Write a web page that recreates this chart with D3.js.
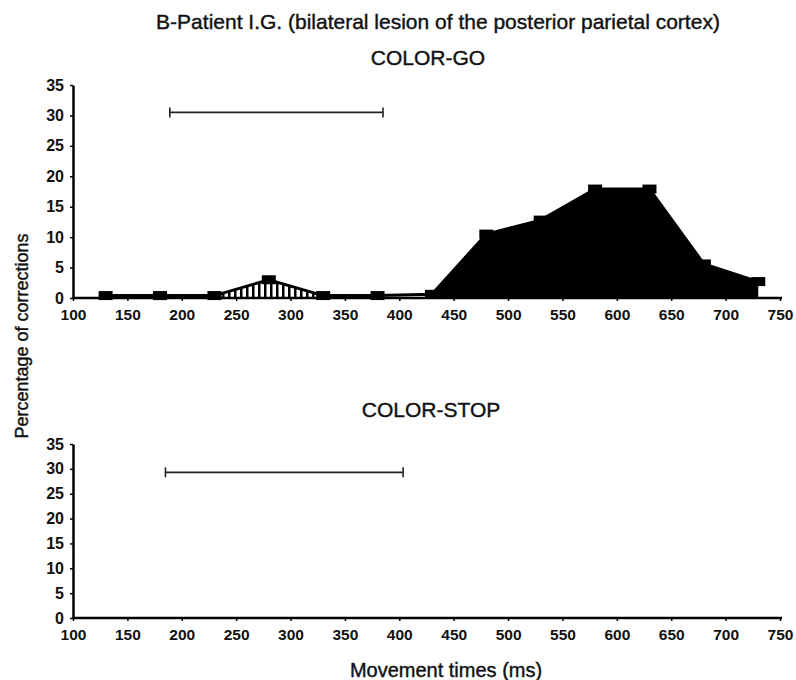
<!DOCTYPE html>
<html lang="en">
<head>
<meta charset="utf-8">
<title>Patient I.G. - corrections</title>
<script src="https://d3js.org/d3.v7.min.js"></script>
<style>
body { margin: 0; background: #fff; }
svg text { font-family: "Liberation Sans", Arial, sans-serif; fill: #111; }
.label { stroke: #111; stroke-width: 0.4px; }
.tick text { font-weight: bold; font-size: 15.5px; }
</style>
</head>
<body>
<svg width="796" height="680"></svg>
<script>

// data
var movementTimes = [130, 180, 230, 280, 330, 380, 430, 480, 530, 580, 630, 680, 730];
var colorGo = [0.4, 0.4, 0.4, 3, 0.4, 0.4, 0.6, 10.5, 12.8, 17.9, 17.9, 5.6, 2.7];
var hatchedRange = [230, 330];
var solidRange = [430, 730];
var xTicks = [100, 150, 200, 250, 300, 350, 400, 450, 500, 550, 600, 650, 700, 750];
var yTicks = [0, 5, 10, 15, 20, 25, 30, 35];
var goBar = [189, 385, 30.5];    // from, to, level
var stopBar = [185, 403.5, 29.3];

var svg = d3.select("svg");

var x = d3.scaleLinear().domain([100, 750]).range([73, 780]);
var yGo = d3.scaleLinear().domain([0, 35]).range([298, 85]);
var yStop = d3.scaleLinear().domain([0, 35]).range([618, 444]);

// hatch for the small bump
var pat = svg.append("defs").append("pattern")
    .attr("id", "hatch").attr("patternUnits", "userSpaceOnUse")
    .attr("width", 6).attr("height", 10);
pat.append("rect").attr("width", 6).attr("height", 10).attr("fill", "#fff");
pat.append("rect").attr("width", 2.5).attr("height", 10).attr("fill", "#000");

// titles
svg.append("text").attr("class", "label").attr("x", 438).attr("y", 29).attr("text-anchor", "middle")
    .style("font-size", "21px")
    .text("B-Patient I.G. (bilateral lesion of the posterior parietal cortex)");
svg.append("text").attr("class", "label").attr("x", 428).attr("y", 65).attr("text-anchor", "middle")
    .style("font-size", "21px").text("COLOR-GO");
svg.append("text").attr("class", "label").attr("x", 431).attr("y", 417).attr("text-anchor", "middle")
    .style("font-size", "21px").text("COLOR-STOP");
svg.append("text").attr("class", "label").attr("x", 446).attr("y", 677).attr("text-anchor", "middle")
    .style("font-size", "20px").text("Movement times (ms)");
svg.append("text").attr("class", "label").attr("transform", "translate(28,336) rotate(-90)")
    .attr("text-anchor", "middle").style("font-size", "18px")
    .text("Percentage of corrections");

function drawAxes(y) {
  var gx = svg.append("g").attr("transform", "translate(0," + y(0) + ")")
      .call(d3.axisBottom(x).tickValues(xTicks).tickSize(3).tickSizeOuter(0).tickPadding(8));
  var gy = svg.append("g").attr("transform", "translate(" + x(100) + ",0)")
      .call(d3.axisLeft(y).tickValues(yTicks).tickSize(3).tickSizeOuter(0).tickPadding(6));
  [gx, gy].forEach(function(g) {
    g.select(".domain").attr("stroke", "#000").attr("stroke-width", 2.5);
    g.selectAll(".tick line").attr("stroke", "#000").attr("stroke-width", 1.5);
    g.selectAll(".tick text").attr("fill", "#111");
  });
  gy.selectAll(".tick text").style("font-size", "16px");
  gx.select(".domain").attr("d", "M" + x(100) + ",0H" + (x(750) + 2));
}

function drawBar(y, bar) {
  var g = svg.append("g").attr("stroke", "#222").attr("stroke-width", 1.6);
  g.append("line").attr("x1", x(bar[0])).attr("x2", x(bar[1]))
      .attr("y1", y(bar[2])).attr("y2", y(bar[2]));
  [bar[0], bar[1]].forEach(function(v) {
    g.append("line").attr("x1", x(v)).attr("x2", x(v))
        .attr("y1", y(bar[2]) - 5).attr("y2", y(bar[2]) + 5);
  });
}

var pts = movementTimes.map(function(t, i) { return { t: t, v: colorGo[i] }; });

function inRange(r) {
  return pts.filter(function(d) { return d.t >= r[0] && d.t <= r[1]; });
}

var area = d3.area()
    .x(function(d) { return x(d.t); })
    .y0(yGo(0))
    .y1(function(d) { return yGo(d.v); });

svg.append("path").datum(inRange(hatchedRange)).attr("d", area).attr("fill", "url(#hatch)");
svg.append("path").datum(inRange(solidRange)).attr("d", area).attr("fill", "#000");

drawAxes(yGo);
drawAxes(yStop);

svg.append("path").datum(pts)
    .attr("d", d3.line().x(function(d) { return x(d.t); }).y(function(d) { return yGo(d.v); }))
    .attr("fill", "none").attr("stroke", "#000").attr("stroke-width", 3);

svg.append("g").selectAll("rect").data(pts).enter().append("rect")
    .attr("x", function(d) { return x(d.t) - 7; })
    .attr("y", function(d) { return yGo(d.v) - 4.5; })
    .attr("width", 14).attr("height", 9).attr("fill", "#000");

drawBar(yGo, goBar);
drawBar(yStop, stopBar);

</script>
</body>
</html>
